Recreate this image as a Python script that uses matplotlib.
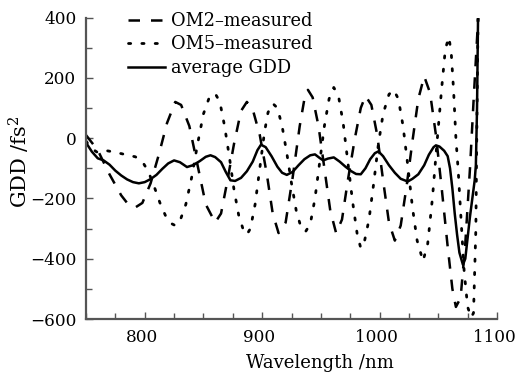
import matplotlib
matplotlib.use("Agg")
import matplotlib.pyplot as plt
from matplotlib.ticker import MultipleLocator
from matplotlib.transforms import ScaledTranslation

# ---- data ----
om2_wl = [750, 760, 770, 780, 786, 792, 798, 805, 812, 819, 826, 831, 838, 845, 852, 860,
          865, 870, 876, 882, 887, 892, 898, 904, 909, 914, 920, 926, 932, 936, 939, 943,
          948, 953, 958, 963, 968, 973, 979, 984, 988, 993, 998, 1003, 1008, 1013, 1018,
          1023, 1028, 1033, 1038, 1043, 1048, 1053, 1058, 1062, 1065, 1069, 1073, 1077,
          1080, 1084, 1087]
om2_gdd = [10, -40, -120, -190, -220, -230, -215, -150, -55, 50, 120, 110, 40, -90, -220, -280,
           -250, -150, -20, 90, 120, 95, 10, -120, -250, -315, -280, -130, 40, 130, 160, 135,
           40, -100, -240, -315, -270, -140, 0, 100, 140, 110, 10, -140, -280, -340, -290,
           -160, -10, 130, 205, 150, 10, -170, -360, -500, -560, -530, -350, -100,
           120, 400, 650]

om5_wl = [750, 755, 760, 768, 776, 784, 792, 798, 803, 808, 813, 818, 822, 826, 830, 835,
          840, 845, 850, 855, 860, 864, 868, 872, 876, 880, 884, 887, 890, 894, 898, 902,
          905, 909, 913, 917, 921, 925, 929, 933, 937, 941, 945, 949, 953, 957, 961, 965,
          969, 973, 977, 981, 984, 987, 991, 995, 999, 1003, 1008, 1012, 1016, 1020, 1024,
          1028, 1032, 1037, 1041, 1045, 1049, 1053, 1056, 1059, 1061, 1063, 1065, 1067,
          1070, 1072, 1075, 1078, 1080, 1082, 1083, 1084]
om5_gdd = [-10, -35, -48, -42, -48, -55, -62, -78, -110, -160, -215, -260, -282, -290, -275, -220,
           -130, -20, 80, 135, 148, 120, 40, -60, -170, -255, -305, -320, -300, -220, -100, 20,
           85, 115, 100, 40, -50, -150, -240, -295, -310, -285, -200, -80, 40, 130, 168, 140,
           50, -80, -210, -320, -365, -345, -270, -150, -20, 80, 145, 160, 130, 40, -90,
           -230, -340, -408, -350, -200, -10, 170, 295, 335, 285, 160, 0, -110,
           -310, -440, -560, -595, -580, -300, 100, 450]

avg_wl = [750, 755, 760, 765, 770, 775, 780, 785, 790, 795, 800, 805, 810, 815, 820, 825,
          830, 836, 841, 847, 852, 856, 860, 865, 869, 873, 877, 882, 887, 892, 896, 899,
          903, 908, 913, 917, 921, 926, 931, 936, 941, 945, 949, 952, 956, 961, 966, 971,
          976, 980, 984, 988, 992, 996, 999, 1003, 1008, 1013, 1018, 1024, 1028, 1033, 1038,
          1042, 1046, 1048, 1051, 1055, 1058, 1060, 1062, 1064, 1066, 1068, 1071, 1073, 1075,
          1077, 1079, 1081, 1082, 1083, 1084]
avg_gdd = [-15, -45, -67, -74, -88, -108, -124, -137, -146, -150, -146, -136, -122, -102, -84, -74,
           -80, -96, -90, -76, -62, -57, -63, -80, -112, -140, -142, -132, -110, -78, -40, -22,
           -30, -60, -95, -115, -122, -112, -90, -70, -57, -54, -66, -74, -68, -64, -78, -95,
           -110, -119, -120, -100, -70, -50, -44, -60, -90, -115, -135, -144, -135, -120, -90,
           -55, -30, -24, -28, -42, -60, -100, -167, -250, -320, -380, -420, -400, -330,
           -260, -200, -140, -90, 100, 450]

labels = ["OM2\u2013measured", "OM5\u2013measured", "average GDD"]
x_ticks = [800, 900, 1000, 1100]
y_ticks = [-600, -400, -200, 0, 200, 400]

plt.rcParams['font.family'] = ['DejaVu Serif']
plt.rcParams['mathtext.fontset'] = 'dejavuserif'

fig = plt.figure(figsize=(5.17, 3.73), dpi=100)
ax = fig.add_axes([86/517, 1 - 319/373, 411/517, (319 - 17.5)/373])

ax.plot(om2_wl, om2_gdd, color='black', lw=1.8, dashes=(4.6, 4.4), label=labels[0])
ax.plot(om5_wl, om5_gdd, color='black', lw=2.0, dashes=(0.8, 4.0),
        dash_capstyle='round', label=labels[1])
ax.plot(avg_wl, avg_gdd, color='black', lw=1.8, label=labels[2])

ax.set_xlim(750, 1100)
ax.set_ylim(-600, 400)
ax.set_xticks(x_ticks)
ax.set_yticks(y_ticks)
ax.xaxis.set_minor_locator(MultipleLocator(25))
ax.yaxis.set_minor_locator(MultipleLocator(100))
ax.set_yticklabels([str(v).replace('-', '\u2212') for v in y_ticks])

for s in ['top', 'right']:
    ax.spines[s].set_visible(False)
for s in ['left', 'bottom']:
    ax.spines[s].set_color('#555555')
    ax.spines[s].set_linewidth(1.6)

ax.tick_params(which='both', direction='in', color='#555555', width=1.0,
               labelsize=12.2, pad=7)
ax.tick_params(which='major', length=5)
ax.tick_params(which='minor', length=4)

shift = ScaledTranslation(-3/100, 0, fig.dpi_scale_trans)
for lab in ax.get_xticklabels():
    lab.set_transform(lab.get_transform() + shift)

ax.set_xlabel("Wavelength /nm", fontsize=13)
ax.xaxis.set_label_coords(0.569, -0.115)
ax.set_ylabel("GDD /fs$^2$", fontsize=15, va='center')
ax.yaxis.set_label_coords(-0.162, 0.52)

leg = ax.legend(loc='upper left', bbox_to_anchor=(0.102, 1.018), frameon=False,
                fontsize=12.8, handlelength=2.1, handletextpad=0.35,
                labelspacing=0.3, borderpad=0, borderaxespad=0)

fig.savefig("out.png", dpi=100)
